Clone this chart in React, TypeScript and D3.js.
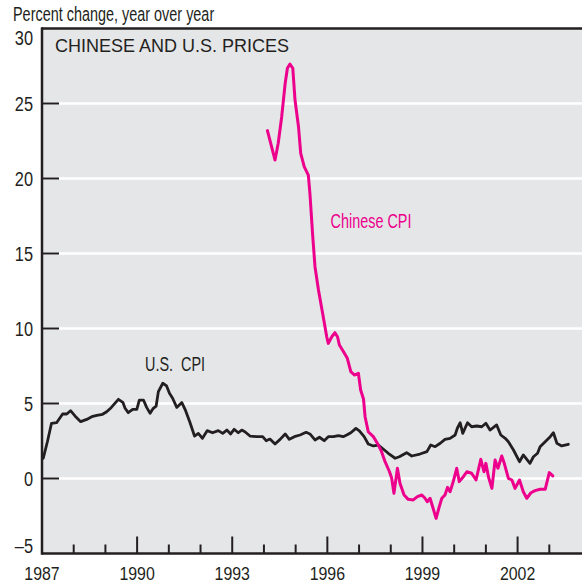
import React from 'react';
import * as d3 from 'd3';

const usDates = [1987.04,1987.17,1987.3,1987.46,1987.65,1987.78,1987.9,1988.04,1988.22,1988.41,1988.57,1988.73,1988.91,1989.04,1989.18,1989.27,1989.41,1989.55,1989.62,1989.72,1989.86,1989.99,1990.07,1990.2,1990.3,1990.41,1990.51,1990.6,1990.67,1990.81,1990.93,1991.02,1991.12,1991.25,1991.41,1991.53,1991.67,1991.81,1991.93,1992.06,1992.21,1992.38,1992.56,1992.7,1992.83,1992.95,1993.06,1993.19,1993.3,1993.4,1993.56,1993.77,1993.96,1994.07,1994.19,1994.35,1994.51,1994.67,1994.8,1994.96,1995.14,1995.33,1995.45,1995.61,1995.75,1995.9,1996.03,1996.19,1996.35,1996.5,1996.61,1996.74,1996.9,1997.01,1997.16,1997.29,1997.45,1997.61,1997.77,1997.92,1998.14,1998.27,1998.5,1998.66,1998.92,1999.14,1999.26,1999.4,1999.56,1999.71,1999.87,2000.03,2000.1,2000.19,2000.27,2000.42,2000.55,2000.71,2000.87,2001.0,2001.13,2001.34,2001.47,2001.61,2001.71,2001.87,2002.06,2002.18,2002.39,2002.5,2002.63,2002.71,2002.87,2003.03,2003.13,2003.24,2003.39,2003.6];
const usValues = [1.35,2.45,3.68,3.72,4.3,4.3,4.52,4.17,3.79,3.94,4.12,4.21,4.28,4.45,4.72,4.94,5.28,5.08,4.68,4.39,4.61,4.61,5.23,5.23,4.74,4.35,4.68,4.83,5.79,6.35,6.17,5.68,5.35,4.74,5.06,4.52,3.72,2.83,3.01,2.68,3.19,3.05,3.19,3.01,3.23,2.97,3.28,3.05,3.23,3.12,2.83,2.79,2.79,2.52,2.63,2.3,2.61,2.97,2.61,2.79,2.9,3.08,2.97,2.57,2.75,2.52,2.79,2.79,2.86,2.79,2.9,3.05,3.34,3.17,2.79,2.3,2.17,2.23,1.95,1.68,1.35,1.45,1.72,1.5,1.63,1.79,2.23,2.12,2.35,2.61,2.68,2.9,3.35,3.72,3.01,3.72,3.45,3.5,3.45,3.68,3.23,3.57,2.9,2.68,2.45,1.9,1.12,1.57,1.01,1.45,1.68,2.12,2.45,2.79,3.05,2.35,2.17,2.28];

const cnDates = [1994.11,1994.35,1994.45,1994.56,1994.67,1994.74,1994.82,1994.91,1994.98,1995.09,1995.16,1995.27,1995.4,1995.45,1995.54,1995.61,1995.72,1995.87,1995.98,1996.03,1996.14,1996.24,1996.32,1996.38,1996.51,1996.63,1996.74,1996.85,1996.98,1997.05,1997.14,1997.19,1997.29,1997.45,1997.61,1997.71,1997.82,1997.96,1998.03,1998.1,1998.21,1998.29,1998.42,1998.55,1998.71,1998.84,1998.98,1999.08,1999.15,1999.24,1999.32,1999.43,1999.53,1999.61,1999.71,1999.79,1999.87,1999.97,2000.08,2000.16,2000.29,2000.4,2000.55,2000.69,2000.84,2000.94,2001.0,2001.08,2001.19,2001.29,2001.38,2001.5,2001.58,2001.71,2001.82,2001.92,2002.06,2002.18,2002.29,2002.42,2002.55,2002.71,2002.87,2003.0,2003.11];
const cnValues = [23.19,21.23,22.35,24.12,26.35,27.35,27.63,27.35,25.23,23.45,21.68,20.79,20.23,19.01,16.12,14.12,12.57,10.79,9.45,9.01,9.45,9.72,9.45,8.9,8.45,8.01,7.12,6.9,7.01,5.9,5.3,4.12,3.12,2.79,2.23,1.79,1.12,0.45,0.01,-0.99,0.68,-0.32,-1.1,-1.39,-1.43,-1.21,-1.1,-1.32,-1.55,-1.32,-1.88,-2.66,-1.88,-1.32,-1.1,-0.59,-0.88,-0.21,0.68,-0.21,0.12,0.45,0.35,-0.1,1.28,0.45,1.01,0.12,-0.66,1.23,0.68,1.5,1.01,0.01,-0.1,-0.66,-0.1,-0.88,-1.32,-0.95,-0.81,-0.72,-0.72,0.39,0.17];

const yTicks = [30, 25, 20, 15, 10, 5, 0, -5];
const yTickLabels = ['30', '25', '20', '15', '10', '5', '0', '\u20135'];
const gridValues = [25, 20, 15, 10, 5, 0];
const xMajor = [1987, 1990, 1993, 1996, 1999, 2002];
const xMinor = [1988, 1989, 1991, 1992, 1994, 1995, 1997, 1998, 2000, 2001, 2003];

const DARK = '#231f20';
const MAGENTA = '#ec008c';
const FONT = '"Liberation Sans", Arial, sans-serif';

function CText({ x, y, sx, anchor = 'start', fill = DARK, size = 19.5, children }: any) {
  return (
    <g transform={`translate(${x},${y}) scale(${sx},1)`}>
      <text x={0} y={0} textAnchor={anchor} fill={fill} fontSize={size} fontFamily={FONT}>{children}</text>
    </g>
  );
}

export default function App() {
  const W = 582, H = 584;
  const x = d3.scaleLinear().domain([1987, 2004]).range([42, 581]);
  const y = d3.scaleLinear().domain([-5, 30]).range([553.5, 28.5]);
  const usData = usDates.map((d, i) => [d, usValues[i]] as [number, number]);
  const cnData = cnDates.map((d, i) => [d, cnValues[i]] as [number, number]);
  const line = d3.line<[number, number]>().x(d => x(d[0])).y(d => y(d[1]));
  const x0 = x(1987), x1 = W;
  const yTop = y(30), yBot = y(-5);

  const labelOffset = (v: number) => (v === 30 ? 9.5 : v === -5 ? -7.5 : 0);

  return (
    <svg width={W} height={H} style={{ position: 'absolute', left: 0, top: 0 }}>
      <rect x={0} y={0} width={W} height={H} fill="#ffffff" />
      <rect x={x0} y={yTop} width={x1 - x0} height={yBot - yTop} fill="#e5e6e8" />
      {gridValues.map(v => (
        <line key={'g' + v} x1={x0} x2={x1} y1={y(v)} y2={y(v)} stroke="#ffffff" strokeWidth={2.5} />
      ))}
      {gridValues.map(v => (
        <line key={'t' + v} x1={x0} x2={x0 + 17} y1={y(v)} y2={y(v)} stroke={DARK} strokeWidth={2} />
      ))}
      {xMajor.map(t => (
        <line key={'M' + t} x1={x(t)} x2={x(t)} y1={yBot} y2={yBot - 17} stroke={DARK} strokeWidth={2} />
      ))}
      {xMinor.map(t => (
        <line key={'m' + t} x1={x(t)} x2={x(t)} y1={yBot} y2={yBot - 9} stroke={DARK} strokeWidth={2} />
      ))}
      <path d={line(usData) || ''} fill="none" stroke={DARK} strokeWidth={2.8} strokeLinejoin="round" strokeLinecap="round" />
      <path d={line(cnData) || ''} fill="none" stroke={MAGENTA} strokeWidth={3} strokeLinejoin="round" strokeLinecap="round" />
      <line x1={x0} x2={x1} y1={yTop} y2={yTop} stroke={DARK} strokeWidth={2.5} />
      <line x1={x0} x2={x1} y1={yBot} y2={yBot} stroke={DARK} strokeWidth={2.5} />
      <line x1={x0} x2={x0} y1={yTop - 1.25} y2={yBot + 1.25} stroke={DARK} strokeWidth={2.5} />

      <CText x={13} y={20.5} sx={0.74}>Percent change, year over year</CText>
      {yTicks.map((v, i) => (
        <CText key={'yl' + v} x={33} y={y(v) + 7 + labelOffset(v)} sx={0.84} anchor="end">{yTickLabels[i]}</CText>
      ))}
      {xMajor.map(t => (
        <CText key={'xl' + t} x={x(t)} y={579.5} size={18.5} sx={0.86} anchor="middle">{String(t)}</CText>
      ))}
      <text x={55} y={52} fontSize={18} fontFamily={FONT} fill={DARK}>CHINESE AND U.S. PRICES</text>
      <CText x={145} y={370.5} sx={0.74}>{'U.S.\u00a0\u00a0CPI'}</CText>
      <CText x={330.5} y={227.5} sx={0.74} fill={MAGENTA}>Chinese CPI</CText>
    </svg>
  );
}
